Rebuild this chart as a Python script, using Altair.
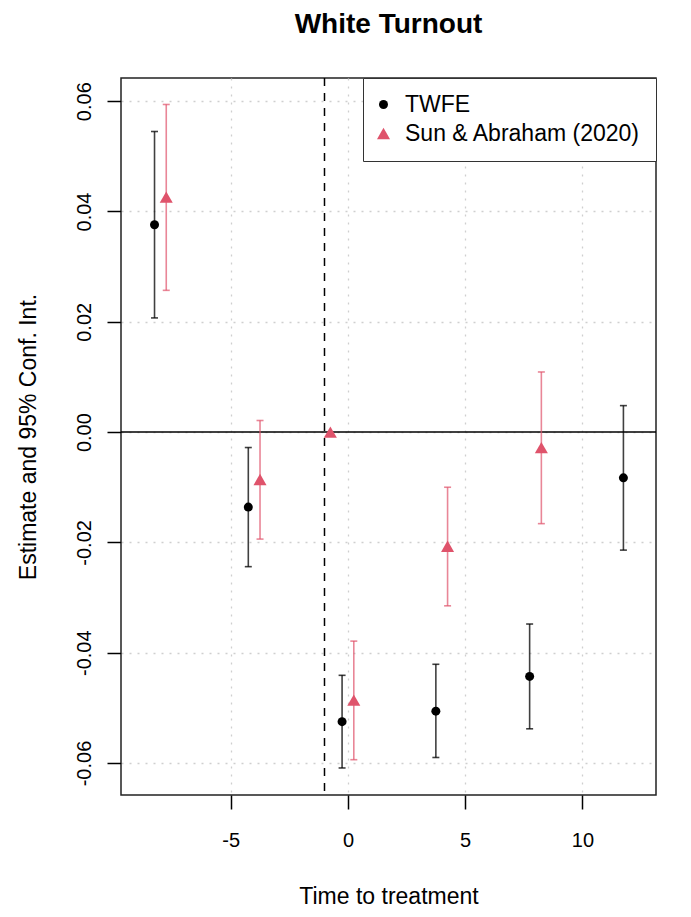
import altair as alt
import pandas as pd

# ---- data ----
series_names = ["TWFE", "Sun & Abraham (2020)"]

twfe_period = [-8, -4, 0, 4, 8, 12]
twfe_est = [0.0376, -0.0136, -0.0525, -0.0506, -0.0443, -0.0083]
twfe_lo = [0.0207, -0.0244, -0.0609, -0.0590, -0.0538, -0.0214]
twfe_hi = [0.0545, -0.0028, -0.0441, -0.0421, -0.0348, 0.0048]

sa_period = [-8, -4, -1, 0, 4, 8]
sa_est = [0.0426, -0.0086, 0.0, -0.0486, -0.0207, -0.0028]
sa_lo = [0.0257, -0.0194, 0.0, -0.0594, -0.0315, -0.0166]
sa_hi = [0.0594, 0.0021, 0.0, -0.0379, -0.0100, 0.0109]

x_ticks = [-5, 0, 5, 10]
y_ticks = [-0.06, -0.04, -0.02, 0.0, 0.02, 0.04, 0.06]
ref_period = -1

# ---- table ----
rows = []
for p, e, l, h in zip(twfe_period, twfe_est, twfe_lo, twfe_hi):
    rows.append({"series": series_names[0], "period": p, "est": e, "lo": l, "hi": h, "shift": -0.25})
for p, e, l, h in zip(sa_period, sa_est, sa_lo, sa_hi):
    rows.append({"series": series_names[1], "period": p, "est": e, "lo": l, "hi": h, "shift": 0.25})
df = pd.DataFrame(rows)

FONT = "Liberation Sans"
RED = "#DF536B"

x_scale = alt.Scale(domain=[-9.68, 13.14], nice=False, zero=False)
y_scale = alt.Scale(domain=[-0.0658, 0.0642], nice=False, zero=False)

x_axis = alt.Axis(
    values=x_ticks, title="Time to treatment",
    labelExpr="datum.value < 0 ? '-' + format(abs(datum.value), 'd') : format(datum.value, 'd')",
    domain=False, tickSize=14, tickWidth=1.5, tickColor="black",
    labelFontSize=20, labelFont=FONT, labelColor="black",
    labelBaseline="alphabetic", labelPadding=37, labelFlush=False, labelOverlap=False,
    titleFontSize=23, titleFont=FONT, titleFontWeight="normal", titleColor="black",
    titleX=267.5, titleY=108, titleBaseline="alphabetic", titleAlign="center",
    grid=True, gridColor="#cfcfcf", gridDash=[2, 6], gridWidth=1.3,
)
y_axis = alt.Axis(
    values=y_ticks, title="Estimate and 95% Conf. Int.",
    labelExpr="datum.value < 0 ? '-' + format(abs(datum.value), '.2f') : format(datum.value, '.2f')",
    domain=False, tickSize=14, tickWidth=1.5, tickColor="black",
    labelFontSize=20, labelFont=FONT, labelColor="black",
    labelAngle=270, labelAlign="center", labelBaseline="alphabetic", labelPadding=17,
    labelFlush=False, labelOverlap=False,
    titleFontSize=23, titleFont=FONT, titleFontWeight="normal", titleColor="black",
    titleAngle=270, titleX=-86, titleY=358.5, titleBaseline="alphabetic", titleAlign="center",
    grid=True, gridColor="#cfcfcf", gridDash=[2, 6], gridWidth=1.3,
)

base = alt.Chart(df).transform_calculate(xpos="datum.period + datum.shift")

X = alt.X("xpos:Q", scale=x_scale, axis=x_axis)

zero_line = alt.Chart(pd.DataFrame({"v": [0.0]})).mark_rule(color="black", strokeWidth=1.5).encode(
    y=alt.Y("v:Q", scale=y_scale, axis=y_axis)
)
ref_line = alt.Chart(pd.DataFrame({"p": [ref_period]})).mark_rule(
    color="black", strokeWidth=1.5, strokeDash=[8, 7]
).encode(x=alt.X("p:Q", scale=x_scale, axis=x_axis))

layers = [zero_line, ref_line]
for name, col, op in [(series_names[0], "black", 0.75), (series_names[1], RED, 0.7)]:
    sub = base.transform_filter(alt.datum.series == name).transform_filter("datum.hi > datum.lo")
    bars = sub.mark_rule(color=col, strokeWidth=1.6, opacity=op).encode(
        x=X, y=alt.Y("lo:Q", scale=y_scale, axis=y_axis), y2="hi:Q"
    )
    caps = sub.transform_fold(["lo", "hi"], as_=["end", "val"]).mark_tick(
        color=col, orient="horizontal", size=7, thickness=1.6, opacity=op
    ).encode(x=X, y=alt.Y("val:Q", scale=y_scale, axis=y_axis))
    layers += [bars, caps]

legend = alt.Legend(
    orient="none", legendX=242, legendY=0, title=None, direction="vertical",
    strokeColor="#333", fillColor="white", padding=15,
    labelFontSize=23, labelFont=FONT, labelColor="black", labelOffset=10, labelLimit=400,
    symbolOffset=-6,
    rowPadding=5, symbolStrokeWidth=0, symbolOpacity=1,
)
points = base.mark_point(filled=True, opacity=1, strokeWidth=0).encode(
    x=X,
    y=alt.Y("est:Q", scale=y_scale, axis=y_axis),
    color=alt.Color("series:N", scale=alt.Scale(domain=series_names, range=["black", RED]), legend=legend),
    shape=alt.Shape("series:N", scale=alt.Scale(domain=series_names, range=["circle", "triangle-up"]), legend=legend),
    size=alt.Size("series:N", scale=alt.Scale(domain=series_names, range=[81, 170]), legend=legend),
)
layers.append(points)

chart = alt.layer(*layers).properties(
    width=535, height=717,
    padding={"left": 113, "top": 70, "right": 27, "bottom": 114},
    autosize=alt.AutoSizeParams(type="none"),
    title=alt.TitleParams(
        "White Turnout", fontSize=28, font=FONT, fontWeight="bold", color="black",
        anchor="middle", frame="group", baseline="alphabetic", offset=16,
    ),
    background="white",
).configure_view(stroke="#222", strokeWidth=1.5)

chart.save("out.html", embed_options={"renderer": "svg", "actions": False})
